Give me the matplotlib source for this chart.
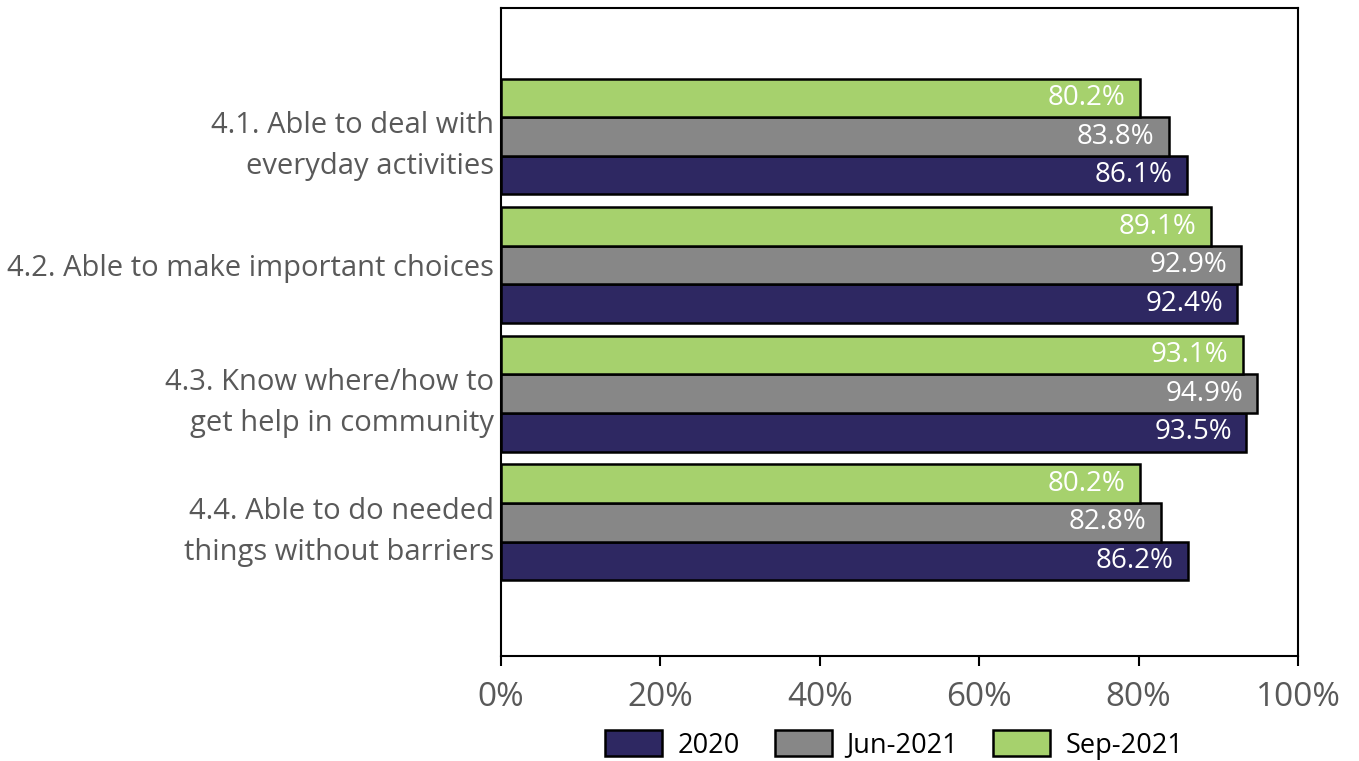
import matplotlib.pyplot as plt
import numpy as np

plt.rcParams["font.family"] = ["Open Sans", "DejaVu Sans"]

categories = [
    "4.1. Able to deal with\neveryday activities",
    "4.2. Able to make important choices",
    "4.3. Know where/how to\nget help in community",
    "4.4. Able to do needed\nthings without barriers",
]
series_names = ["2020", "Jun-2021", "Sep-2021"]
v2020 = [86.1, 92.4, 93.5, 86.2]
vjun21 = [83.8, 92.9, 94.9, 82.8]
vsep21 = [80.2, 89.1, 93.1, 80.2]

colors = ["#2e2862", "#878787", "#a6d16d"]
offsets = [0.3, 0.0, -0.3]
h = 0.3

fig = plt.figure(figsize=(13.59, 7.61), dpi=100)
ax = fig.add_axes([501 / 1359, 1 - 656 / 761, 797 / 1359, 648 / 761])

y = np.arange(len(categories))
for vals, name, c, off in zip([v2020, vjun21, vsep21], series_names, colors, offsets):
    bars = ax.barh(y + off, vals, height=h, color=c, edgecolor="black",
                   linewidth=1.8, label=name)
    for b, v in zip(bars, vals):
        ax.text(v - 1.8, b.get_y() + b.get_height() / 2, f"{v:.1f}%",
                ha="right", va="center", color="white", fontsize=20)

ax.set_xlim(0, 100)
ax.set_ylim(4.04, -1.0)
ax.set_xticks(np.arange(0, 101, 20))
ax.set_xticklabels([f"{t}%" for t in range(0, 101, 20)])
ax.tick_params(axis="x", labelsize=24, labelcolor="#595959", length=7,
               width=1.5, pad=11)
ax.set_yticks(y)
ax.set_yticklabels(categories, fontsize=21, color="#595959", linespacing=1.55)
ax.tick_params(axis="y", length=0, pad=5)
for s in ax.spines.values():
    s.set_linewidth(1.5)
    s.set_color("black")

fig.legend(loc="center", bbox_to_anchor=(0.658, 0.021), ncol=3, frameon=False,
           fontsize=19.5, handlelength=2.1, handleheight=1.1, columnspacing=1.3,
           handletextpad=0.55)

fig.savefig("out.png", dpi=100)
